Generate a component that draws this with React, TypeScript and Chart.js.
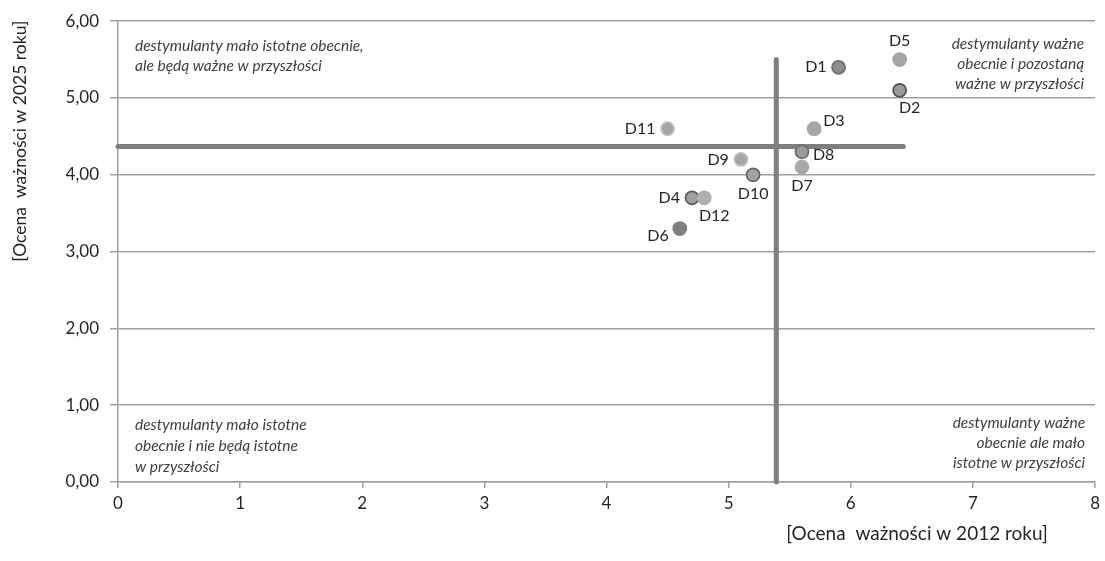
import React, { useEffect, useRef } from "react";
import { Chart, registerables } from "chart.js";

Chart.register(...registerables);

// ---- data ----
const pointLabels = ["D1", "D2", "D3", "D4", "D5", "D6", "D7", "D8", "D9", "D10", "D11", "D12"];
const score2012 = [5.9, 6.4, 5.7, 4.7, 6.4, 4.6, 5.6, 5.6, 5.1, 5.2, 4.5, 4.8];
const score2025 = [5.4, 5.1, 4.6, 3.7, 5.5, 3.3, 4.1, 4.3, 4.2, 4.0, 4.6, 3.7];
const mean2012 = 5.39;
const mean2025 = 4.37;
const horizontalLineEndX = 6.43;
const verticalLineTopY = 5.5;
const xTickValues = [0, 1, 2, 3, 4, 5, 6, 7, 8];
const yTickValues = [0, 1, 2, 3, 4, 5, 6];
const xAxisTitle = "[Ocena  ważności w 2012 roku]";
const yAxisTitle = "[Ocena  ważności w 2025 roku]";
const quadrantTopLeft = ["destymulanty mało istotne obecnie,", "ale będą ważne w przyszłości"];
const quadrantTopRight = ["destymulanty ważne", "obecnie i pozostaną", "ważne w przyszłości"];
const quadrantBottomLeft = ["destymulanty mało istotne", "obecnie i nie będą istotne", "w przyszłości"];
const quadrantBottomRight = ["destymulanty ważne", "obecnie ale mało", "istotne w przyszłości"];

// ---- styles ----
const pointFill = ["#8f8f8f", "#9a9a9a", "#a6a6a6", "#a0a0a0", "#a6a6a6", "#7f7f7f", "#a9a9a9", "#9c9c9c", "#a6a6a6", "#a3a3a3", "#a6a6a6", "#b0b0b0"];
const pointStroke = ["#6f6f6f", "#555555", "#a6a6a6", "#606060", "#a6a6a6", "#7f7f7f", "#a9a9a9", "#707070", "#c0c0c0", "#686868", "#c0c0c0", "#b0b0b0"];
const labelPlacement = ["left", "bottomRight", "rightTop", "left", "top", "leftBottom", "bottom", "right", "left", "bottom", "left", "bottomRight"];

const FONT = "Lato, sans-serif";

const overlayPlugin = {
  id: "overlay",
  afterDatasetsDraw(chart: any) {
    const ctx = chart.ctx;
    const area = chart.chartArea;
    const meta = chart.getDatasetMeta(2);
    ctx.save();
    // point labels
    ctx.font = `16px ${FONT}`;
    ctx.fillStyle = "#262626";
    ctx.textBaseline = "middle";
    meta.data.forEach((el: any, i: number) => {
      const p = labelPlacement[i];
      let x = el.x, y = el.y;
      let align: CanvasTextAlign = "center";
      if (p === "left") { x -= 12; align = "right"; }
      else if (p === "right") { x += 11; y += 3; align = "left"; }
      else if (p === "top") { y -= 19; }
      else if (p === "bottom") { y += 19; }
      else if (p === "bottomRight") { x += 10; y += 18; }
      else if (p === "rightTop") { x += 9; y -= 8; align = "left"; }
      else if (p === "leftBottom") { x -= 11; y += 7; align = "right"; }
      ctx.textAlign = align;
      ctx.fillText(pointLabels[i], x, y);
    });
    // quadrant notes
    ctx.font = `italic 15.5px ${FONT}`;
    ctx.fillStyle = "#404040";
    const lh = 20;
    ctx.textAlign = "left";
    quadrantTopLeft.forEach((t, i) => ctx.fillText(t, area.left + 17, area.top + 25 + i * lh));
    quadrantBottomLeft.forEach((t, i) => ctx.fillText(t, area.left + 17, area.bottom - 57 + i * 21));
    ctx.textAlign = "right";
    quadrantTopRight.forEach((t, i) => ctx.fillText(t, area.right - 11, area.top + 23 + i * lh));
    quadrantBottomRight.forEach((t, i) => ctx.fillText(t, area.right - 10, area.bottom - 59 + i * lh));
    // axis titles
    ctx.fillStyle = "#262626";
    ctx.font = `19px ${FONT}`;
    ctx.textAlign = "center";
    ctx.fillText(xAxisTitle, area.right - 178, area.bottom + 52);
    ctx.font = `17.5px ${FONT}`;
    ctx.translate(20, area.top + 120);
    ctx.rotate(-Math.PI / 2);
    ctx.fillText(yAxisTitle, 0, 0);
    ctx.restore();
  },
};

export default function App() {
  const ref = useRef<HTMLCanvasElement>(null);
  useEffect(() => {
    document.body.style.margin = "0";
    const chart = new Chart(ref.current!, {
      type: "scatter",
      data: {
        datasets: [
          {
            type: "line",
            data: [{ x: 0, y: mean2025 }, { x: horizontalLineEndX, y: mean2025 }],
            borderColor: "#7f7f7f",
            borderWidth: 5,
            borderCapStyle: "round",
            pointRadius: 0,
            showLine: true,
            order: 3,
            clip: 10,
          } as any,
          {
            type: "line",
            data: [{ x: mean2012, y: 0 }, { x: mean2012, y: verticalLineTopY }],
            borderColor: "#7f7f7f",
            borderWidth: 5,
            borderCapStyle: "round",
            pointRadius: 0,
            showLine: true,
            order: 2,
            clip: 10,
          } as any,
          {
            data: score2012.map((x, i) => ({ x, y: score2025[i] })),
            pointBackgroundColor: pointFill,
            pointBorderColor: pointStroke,
            pointBorderWidth: 1.8,
            pointRadius: 6.5,
            order: 1,
          },
        ],
      },
      options: {
        responsive: false,
        animation: false,
        layout: { padding: { top: 20, right: 8, left: 0, bottom: 0 } },
        plugins: { legend: { display: false }, tooltip: { enabled: false } },
        scales: {
          x: {
            type: "linear",
            min: 0,
            max: 8,
            afterBuildTicks: (s: any) => { s.ticks = xTickValues.map((v) => ({ value: v })); },
            afterFit: (s: any) => { s.height = 79; },
            ticks: { color: "#262626", font: { family: FONT, size: 17 }, padding: 5, maxRotation: 0 },
            grid: { drawOnChartArea: false, drawTicks: true, tickLength: 6, color: "#a0a0a0", lineWidth: 1.5 },
            border: { color: "#a0a0a0", width: 1.5 },
          },
          y: {
            type: "linear",
            min: 0,
            max: 6,
            afterBuildTicks: (s: any) => { s.ticks = yTickValues.map((v) => ({ value: v })); },
            afterFit: (s: any) => { s.width = 118; },
            ticks: {
              color: "#262626",
              font: { family: FONT, size: 17 },
              padding: 11,
              callback: (v: any) => Number(v).toFixed(2).replace(".", ","),
            },
            grid: { color: "#a0a0a0", lineWidth: 1.5, tickLength: 8 },
            border: { color: "#a0a0a0", width: 1.5 },
          },
        },
      },
      plugins: [overlayPlugin],
    });
    return () => chart.destroy();
  }, []);
  return (
    <div style={{ width: 1105, height: 561, background: "#fff" }}>
      <canvas ref={ref} width={1105} height={561} />
    </div>
  );
}
